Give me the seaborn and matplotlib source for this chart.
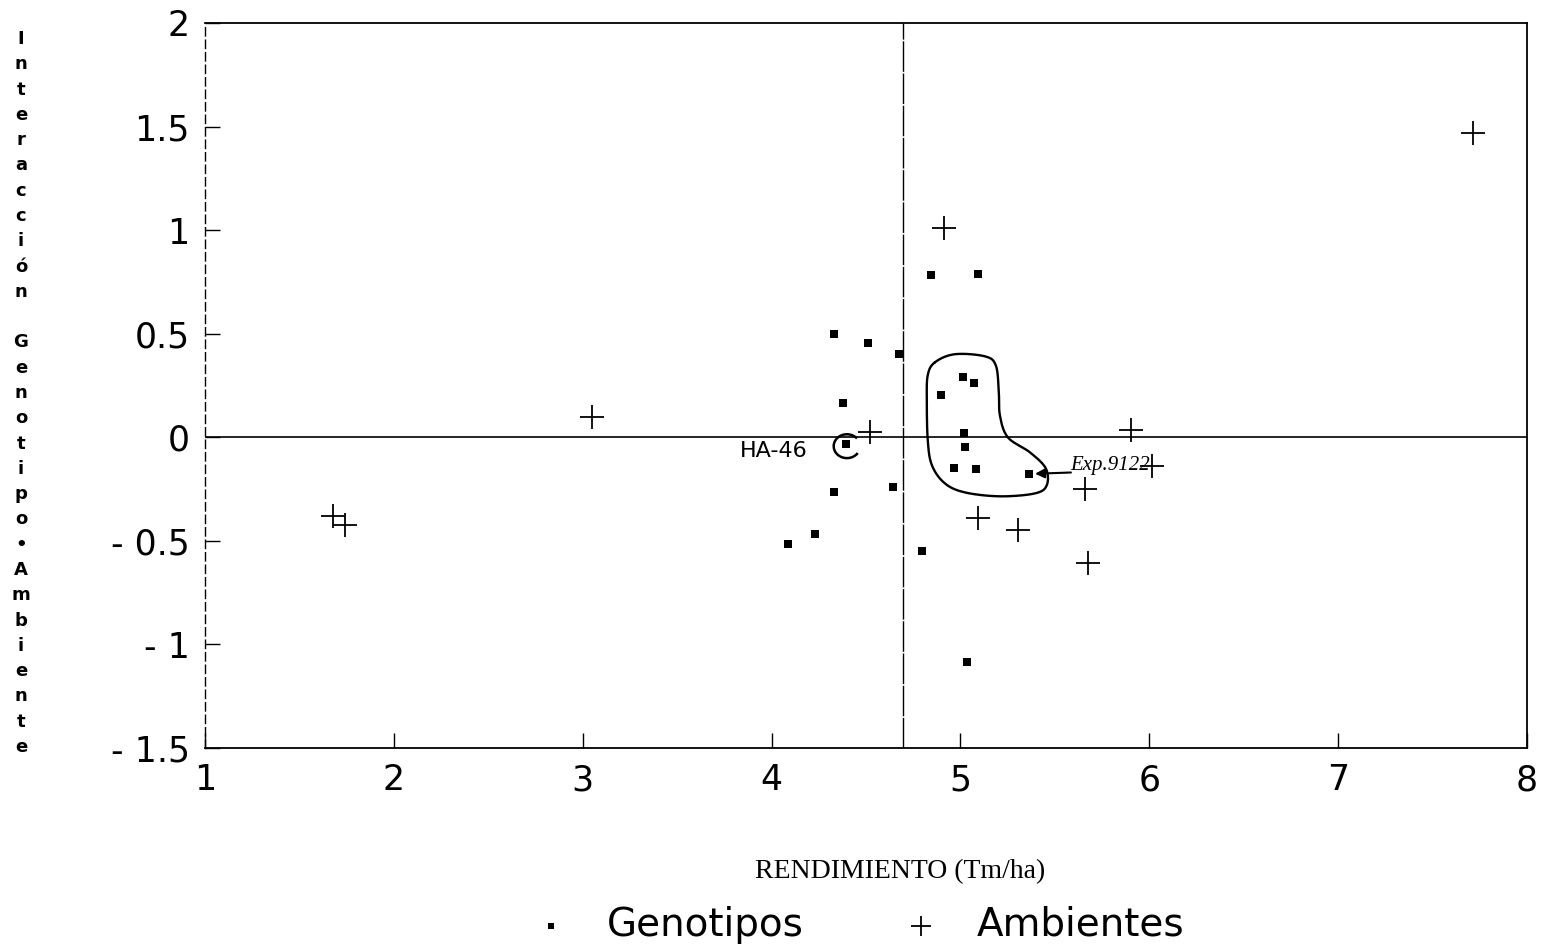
import numpy as np
import pandas as pd
import matplotlib
matplotlib.use("Agg")
import matplotlib.pyplot as plt
import seaborn as sns
from matplotlib.patches import Arc

# Genotipos: rendimiento medio (Tm/ha) e interacción G x A
gen_rend = [4.843, 5.092, 4.330, 4.510, 4.674, 4.377, 5.013, 5.071, 4.896, 5.018,
            5.023, 4.393, 4.965, 5.082, 5.362, 4.330, 4.642, 4.229, 4.086, 4.796,
            5.034]
gen_inter = [0.783, 0.787, 0.498, 0.454, 0.401, 0.164, 0.290, 0.261, 0.203, 0.019,
             -0.048, -0.034, -0.150, -0.155, -0.179, -0.266, -0.242, -0.469, -0.517,
             -0.551, -1.087]

# Ambientes: rendimiento medio (Tm/ha) e interacción G x A
amb_rend = [4.912, 4.520, 5.902, 6.013, 5.659, 5.092, 5.304, 5.674, 7.713, 3.049,
            1.678, 1.741]
amb_inter = [1.010, 0.024, 0.034, -0.140, -0.251, -0.391, -0.449, -0.609, 1.469,
             0.097, -0.382, -0.425]

# Rendimiento medio general (línea de referencia vertical)
rend_medio = 4.695

x_ticks = [1, 2, 3, 4, 5, 6, 7, 8]
x_tick_labels = ["1", "2", "3", "4", "5", "6", "7", "8"]
y_ticks = [-1.5, -1, -0.5, 0, 0.5, 1, 1.5, 2]
y_tick_labels = ["- 1.5", "- 1", "- 0.5", "0", "0.5", "1", "1.5", "2"]

# Contorno a mano alzada del grupo de genotipos estables
grupo_x = [4.865, 4.970, 5.129, 5.187, 5.203, 5.209, 5.251, 5.367, 5.452, 5.457,
           5.394, 5.209, 5.023, 4.917, 4.849, 4.827, 4.822, 4.827]
grupo_y = [0.362, 0.401, 0.391, 0.348, 0.227, 0.106, 0.000, -0.072, -0.150, -0.232,
           -0.271, -0.285, -0.266, -0.222, -0.135, -0.014, 0.179, 0.300]


def closed_catmull_rom(xs, ys, n=20):
    pts = np.column_stack([xs, ys])
    m = len(pts)
    out = []
    for i in range(m):
        p0, p1, p2, p3 = pts[(i - 1) % m], pts[i], pts[(i + 1) % m], pts[(i + 2) % m]
        t = np.linspace(0, 1, n, endpoint=False)[:, None]
        seg = 0.5 * ((2 * p1) + (-p0 + p2) * t + (2 * p0 - 5 * p1 + 4 * p2 - p3) * t ** 2
                     + (-p0 + 3 * p1 - 3 * p2 + p3) * t ** 3)
        out.append(seg)
    out = np.vstack(out)
    out = np.vstack([out, out[:1]])
    return out[:, 0], out[:, 1]


sns.set_theme(style="white")
plt.rcParams["font.family"] = ["DejaVu Sans"]
plt.rcParams["text.color"] = "black"

W, H = 1549, 949
fig = plt.figure(figsize=(W / 100, H / 100), dpi=100)
ax = fig.add_axes([205 / W, 1 - 748 / H, (1527 - 205) / W, (748 - 23) / H])

gen = pd.DataFrame({"rend": gen_rend, "inter": gen_inter})
amb = pd.DataFrame({"rend": amb_rend, "inter": amb_inter})

sns.scatterplot(data=gen, x="rend", y="inter", marker="s", s=26, color="black",
                linewidth=0, label="Genotipos", ax=ax, zorder=4)
sns.scatterplot(data=amb, x="rend", y="inter", marker="+", s=300, color="black",
                linewidth=1.3, label="Ambientes", ax=ax, zorder=4)

ax.axhline(0, color="black", lw=1.2, zorder=2)
ax.axvline(rend_medio, color="black", lw=1.0, ls=(0, (22, 1.2)), zorder=2)

ax.set_xlim(1, 8)
ax.set_ylim(-1.5, 2)
ax.set_xticks(x_ticks)
ax.set_xticklabels(x_tick_labels)
ax.set_yticks(y_ticks)
ax.set_yticklabels(y_tick_labels)
ax.set_xlabel("")
ax.set_ylabel("")
ax.tick_params(axis="both", direction="in", length=11, width=1.0, colors="black",
               labelsize=25, pad=11, bottom=True, left=True, top=False, right=False)

for name, sp in ax.spines.items():
    sp.set_color("black")
    sp.set_linewidth(1.3)
ax.spines["left"].set_linewidth(1.0)
ax.spines["left"].set_linestyle((0, (6, 3)))

# Contorno del grupo
bx, by = closed_catmull_rom(grupo_x, grupo_y)
ax.plot(bx, by, color="black", lw=1.7, zorder=3)

# HA-46
ax.add_patch(Arc((4.399, -0.043), 0.14, 0.115, theta1=35, theta2=330,
                 color="black", lw=1.8, zorder=3))
ax.text(4.012, -0.068, "HA-46", fontsize=16, ha="center", va="center",
        color="black", family=["DejaVu Sans"])

# Exp.9122
ax.annotate("", xy=(5.395, -0.176), xytext=(5.585, -0.170),
            arrowprops=dict(arrowstyle="-|>", color="black", lw=1.5,
                            mutation_scale=14, shrinkA=0, shrinkB=0), zorder=3)
ax.text(5.58, -0.135, "Exp.9122", fontsize=15, ha="left", va="center",
        style="italic", color="black", family=["Liberation Serif"])

# Rótulo del eje Y en letras apiladas
fig.text(21 / W, 1 - 393 / H, "\n".join("Interacción Genotipo•Ambiente"),
         ha="center", va="center", fontsize=13, fontweight="bold",
         linespacing=1.52, color="black")

# Rótulo del eje X
fig.text(900 / W, 1 - 872 / H, "RENDIMIENTO (Tm/ha)", ha="center", va="center",
         fontsize=20, family=["Liberation Serif"], color="black")

# Leyenda inferior
handles, labels = ax.get_legend_handles_labels()
if ax.get_legend() is not None:
    ax.get_legend().remove()
leg = fig.legend(handles, labels, loc="center", bbox_to_anchor=(858 / W, 1 - 925 / H),
                 ncol=2, frameon=False, fontsize=28, handlelength=1.0,
                 handletextpad=0.95, columnspacing=2.5, markerscale=0.8)
for t in leg.get_texts():
    t.set_color("black")

fig.savefig("out.png", dpi=100, facecolor="white")
